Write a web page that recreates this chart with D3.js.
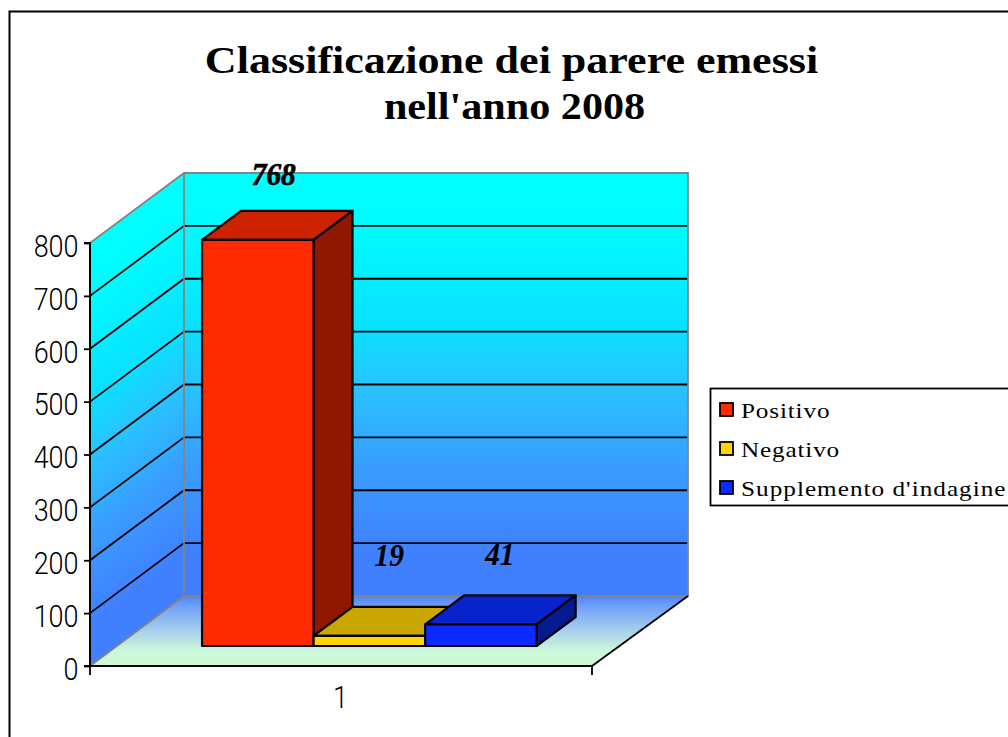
<!DOCTYPE html>
<html><head><meta charset="utf-8">
<script src="https://cdn.jsdelivr.net/npm/d3@7"></script>
<style>html,body{margin:0;padding:0;background:#fff;overflow:hidden}svg{display:block}</style>
</head><body>
<svg id="c" width="1008" height="737"></svg>
<script>
const titleLines = ["Classificazione dei parere emessi", "nell'anno 2008"];
const categories = ["1"];
const seriesNames = ["Positivo", "Negativo", "Supplemento d'indagine"];
const seriesValues = [768, 19, 41];
const valueTicks = [0, 100, 200, 300, 400, 500, 600, 700, 800];
const frontColors = ["#ff2a00", "#ffd400", "#0a2aff"];
const topColors = ["#cc2200", "#c9a600", "#0822cc"];
const sideColors = ["#911800", "#8f7700", "#061a91"];

const W = 1008, H = 737;
const x0 = 90, x1 = 592, y0 = 666, y800 = 243, DX = 94, DY = 70, x1Back = x1 + 2;
const barDepthStart = 0.286, barDepthEnd = 0.70;
const svg = d3.select("#c");
const yS = d3.scaleLinear().domain([0, 800]).range([y0, y800]);
const xCat = d3.scaleBand().domain(categories).range([x0, x1]);
const xBar = d3.scaleBand().domain(seriesNames).range([x0 + 1.5, x1 + 1.5]).paddingInner(0).paddingOuter(0.75);
const P = (x, y, f) => [x + DX * f, y - DY * f];
const path = pts => "M" + pts.map(p => p.join(",")).join("L") + "Z";
const line = pts => "M" + pts.map(p => p.join(",")).join("L");

// frame
svg.append("rect").attr("x", 9.5).attr("y", 11.5).attr("width", W + 20).attr("height", H + 20)
  .attr("fill", "#fff").attr("stroke", "#000").attr("stroke-width", 2);

// gradients
const defs = svg.append("defs");
const wallStops = [[0, "#00ffff"], [0.13, "#00fbff"], [0.37, "#0ae0ff"], [0.5, "#28c4ff"], [0.7, "#3a9cff"], [0.9, "#4080ff"], [1, "#4080ff"]];
function grad(id, stops, y1, y2, tr) {
  const g = defs.append("linearGradient").attr("id", id).attr("gradientUnits", "userSpaceOnUse")
    .attr("x1", 0).attr("x2", 0).attr("y1", y1).attr("y2", y2);
  if (tr) g.attr("gradientTransform", tr);
  stops.forEach(s => g.append("stop").attr("offset", s[0]).attr("stop-color", s[1]));
}
grad("back", wallStops, yS(800) - DY, yS(0) - DY);
const sk = DY / DX;
grad("side", wallStops, yS(800), yS(0), `matrix(1,${-sk},0,1,0,${sk * x0})`);
grad("floor", [[0, "#4c82ff"], [0.12, "#6c9cf8"], [0.5, "#a8cfec"], [0.78, "#cdf7da"], [1, "#cdf8d8"]], yS(0) - DY, yS(0));

// walls and floor
svg.append("path").attr("d", path([P(x0, yS(0), 0), P(x1, yS(0), 0), P(x1Back, yS(0), 1), P(x0, yS(0), 1)])).attr("fill", "url(#floor)");
svg.append("path").attr("d", path([P(x0, yS(0), 1), P(x1Back, yS(0), 1), P(x1Back, yS(800), 1), P(x0, yS(800), 1)])).attr("fill", "url(#back)");
svg.append("path").attr("d", path([P(x0, yS(0), 0), P(x0, yS(0), 1), P(x0, yS(800), 1), P(x0, yS(800), 0)])).attr("fill", "url(#side)");

// gridlines
svg.append("g").selectAll("path").data(valueTicks.filter(t => t > 0 && t < 800)).join("path")
  .attr("d", t => line([P(x0, yS(t), 0), P(x0, yS(t), 1), P(x1Back, yS(t), 1)]))
  .attr("fill", "none").attr("stroke", "#000").attr("stroke-width", 1.8);

// wall outlines
const gray = "#848484";
svg.append("path").attr("d", line([P(x0, yS(800), 0), P(x0, yS(800), 1), P(x1Back, yS(800), 1), P(x1Back, yS(0), 1), P(x0, yS(0), 1), P(x0, yS(0), 0)]))
  .attr("fill", "none").attr("stroke", gray).attr("stroke-width", 1.8);
svg.append("path").attr("d", line([P(x0, yS(800), 1), P(x0, yS(0), 1)]))
  .attr("fill", "none").attr("stroke", gray).attr("stroke-width", 1.8);
svg.append("path").attr("d", line([P(x1, yS(0), 0), P(x1Back, yS(0), 1)]))
  .attr("fill", "none").attr("stroke", "#000").attr("stroke-width", 1.8);

// bars
seriesNames.forEach((name, i) => {
  const v = seriesValues[i];
  const l = xBar(name), r = l + xBar.bandwidth(), b = yS(0), t = yS(v);
  const f0 = barDepthStart, f1 = barDepthEnd;
  const g = svg.append("g").attr("stroke", "#000").attr("stroke-width", 2.2).attr("stroke-linejoin", "round");
  g.append("path").attr("d", path([P(l, t, f0), P(r, t, f0), P(r, t, f1), P(l, t, f1)])).attr("fill", topColors[i]);
  g.append("path").attr("d", path([P(r, t, f0), P(r, b, f0), P(r, b, f1), P(r, t, f1)])).attr("fill", sideColors[i]);
  g.append("path").attr("d", path([P(l, t, f0), P(r, t, f0), P(r, b, f0), P(l, b, f0)])).attr("fill", frontColors[i]);
});

// value labels
const labelShift = [[-23, -26], [-19, -41], [-20, -30]];
seriesNames.forEach((name, i) => {
  const p = P(xBar(name) + xBar.bandwidth() / 2, yS(seriesValues[i]), barDepthEnd);
  svg.append("text").text(seriesValues[i])
    .attr("transform", `translate(${p[0] + labelShift[i][0]},${p[1] + labelShift[i][1]}) scale(0.92,1)`)
    .attr("text-anchor", "middle").attr("font-family", "Liberation Serif").attr("font-weight", "bold")
    .attr("font-style", "italic").attr("font-size", 32).attr("fill", "#000")
    .attr("stroke", "#000").attr("stroke-width", i === 0 ? 0.7 : 0.2);
});

// axes
const tickSX = 0.87;
const axY = d3.axisLeft(yS).tickValues(valueTicks).tickSize(6).tickPadding(6).tickFormat(d3.format("d"));
const gy = svg.append("g").attr("transform", `translate(${x0},0)`).call(axY);
const axX = d3.axisBottom(xCat).tickSize(8).tickPadding(12);
const gx = svg.append("g").attr("transform", `translate(0,${y0})`).call(axX);
gx.selectAll(".tick line").remove();
[x0, x1].forEach(x => gx.append("line").attr("x1", x).attr("x2", x).attr("y1", 0).attr("y2", 9).attr("stroke", "#000").attr("stroke-width", 1.8));
[gy, gx].forEach(g => {
  g.selectAll(".domain").attr("stroke", "#000").attr("stroke-width", 2);
  g.selectAll(".tick line").attr("stroke", "#000").attr("stroke-width", 1.8);
  g.selectAll("text").attr("font-family", "Roboto").attr("font-weight", 300).attr("font-size", 31).attr("fill", "#000")
    .attr("transform", `scale(${tickSX},1)`);
});
gy.selectAll("text").attr("x", -11.5 / tickSX).attr("dy", "0.43em");
gx.selectAll("text").attr("x", -0.5 / tickSX);
gy.selectAll(".domain").attr("d", `M-6,${y800}H0V${y0}H-6`);
gx.selectAll(".domain").attr("d", `M${x0},0H${x1}`);

// title
const titleScale = [1.19, 1.14];
titleLines.forEach((s, i) => svg.append("text").text(s)
  .attr("transform", `translate(${511.5 + 3 * i},${72.5 + 46 * i}) scale(${titleScale[i]},1)`)
  .attr("font-family", "Liberation Serif").attr("font-weight", "bold").attr("font-size", 37)
  .attr("text-anchor", "middle").attr("fill", "#000"));

// legend
const lg = svg.append("g");
lg.append("rect").attr("x", 710.5).attr("y", 388.5).attr("width", 340).attr("height", 117)
  .attr("fill", "#fff").attr("stroke", "#000").attr("stroke-width", 1.8);
const legY = d3.scalePoint().domain(seriesNames).range([410, 488]);
seriesNames.forEach((name, i) => {
  lg.append("rect").attr("x", 720).attr("y", legY(name) - 7).attr("width", 13).attr("height", 13)
    .attr("fill", frontColors[i]).attr("stroke", "#000").attr("stroke-width", 1.8);
  lg.append("text").text(name).attr("transform", `translate(741,${legY(name) + 8}) scale(1.2,1)`)
    .attr("font-family", "Liberation Serif").attr("font-size", 21).attr("letter-spacing", i === 2 ? 0.85 : 0.7).attr("fill", "#000");
});
</script>
</body></html>
